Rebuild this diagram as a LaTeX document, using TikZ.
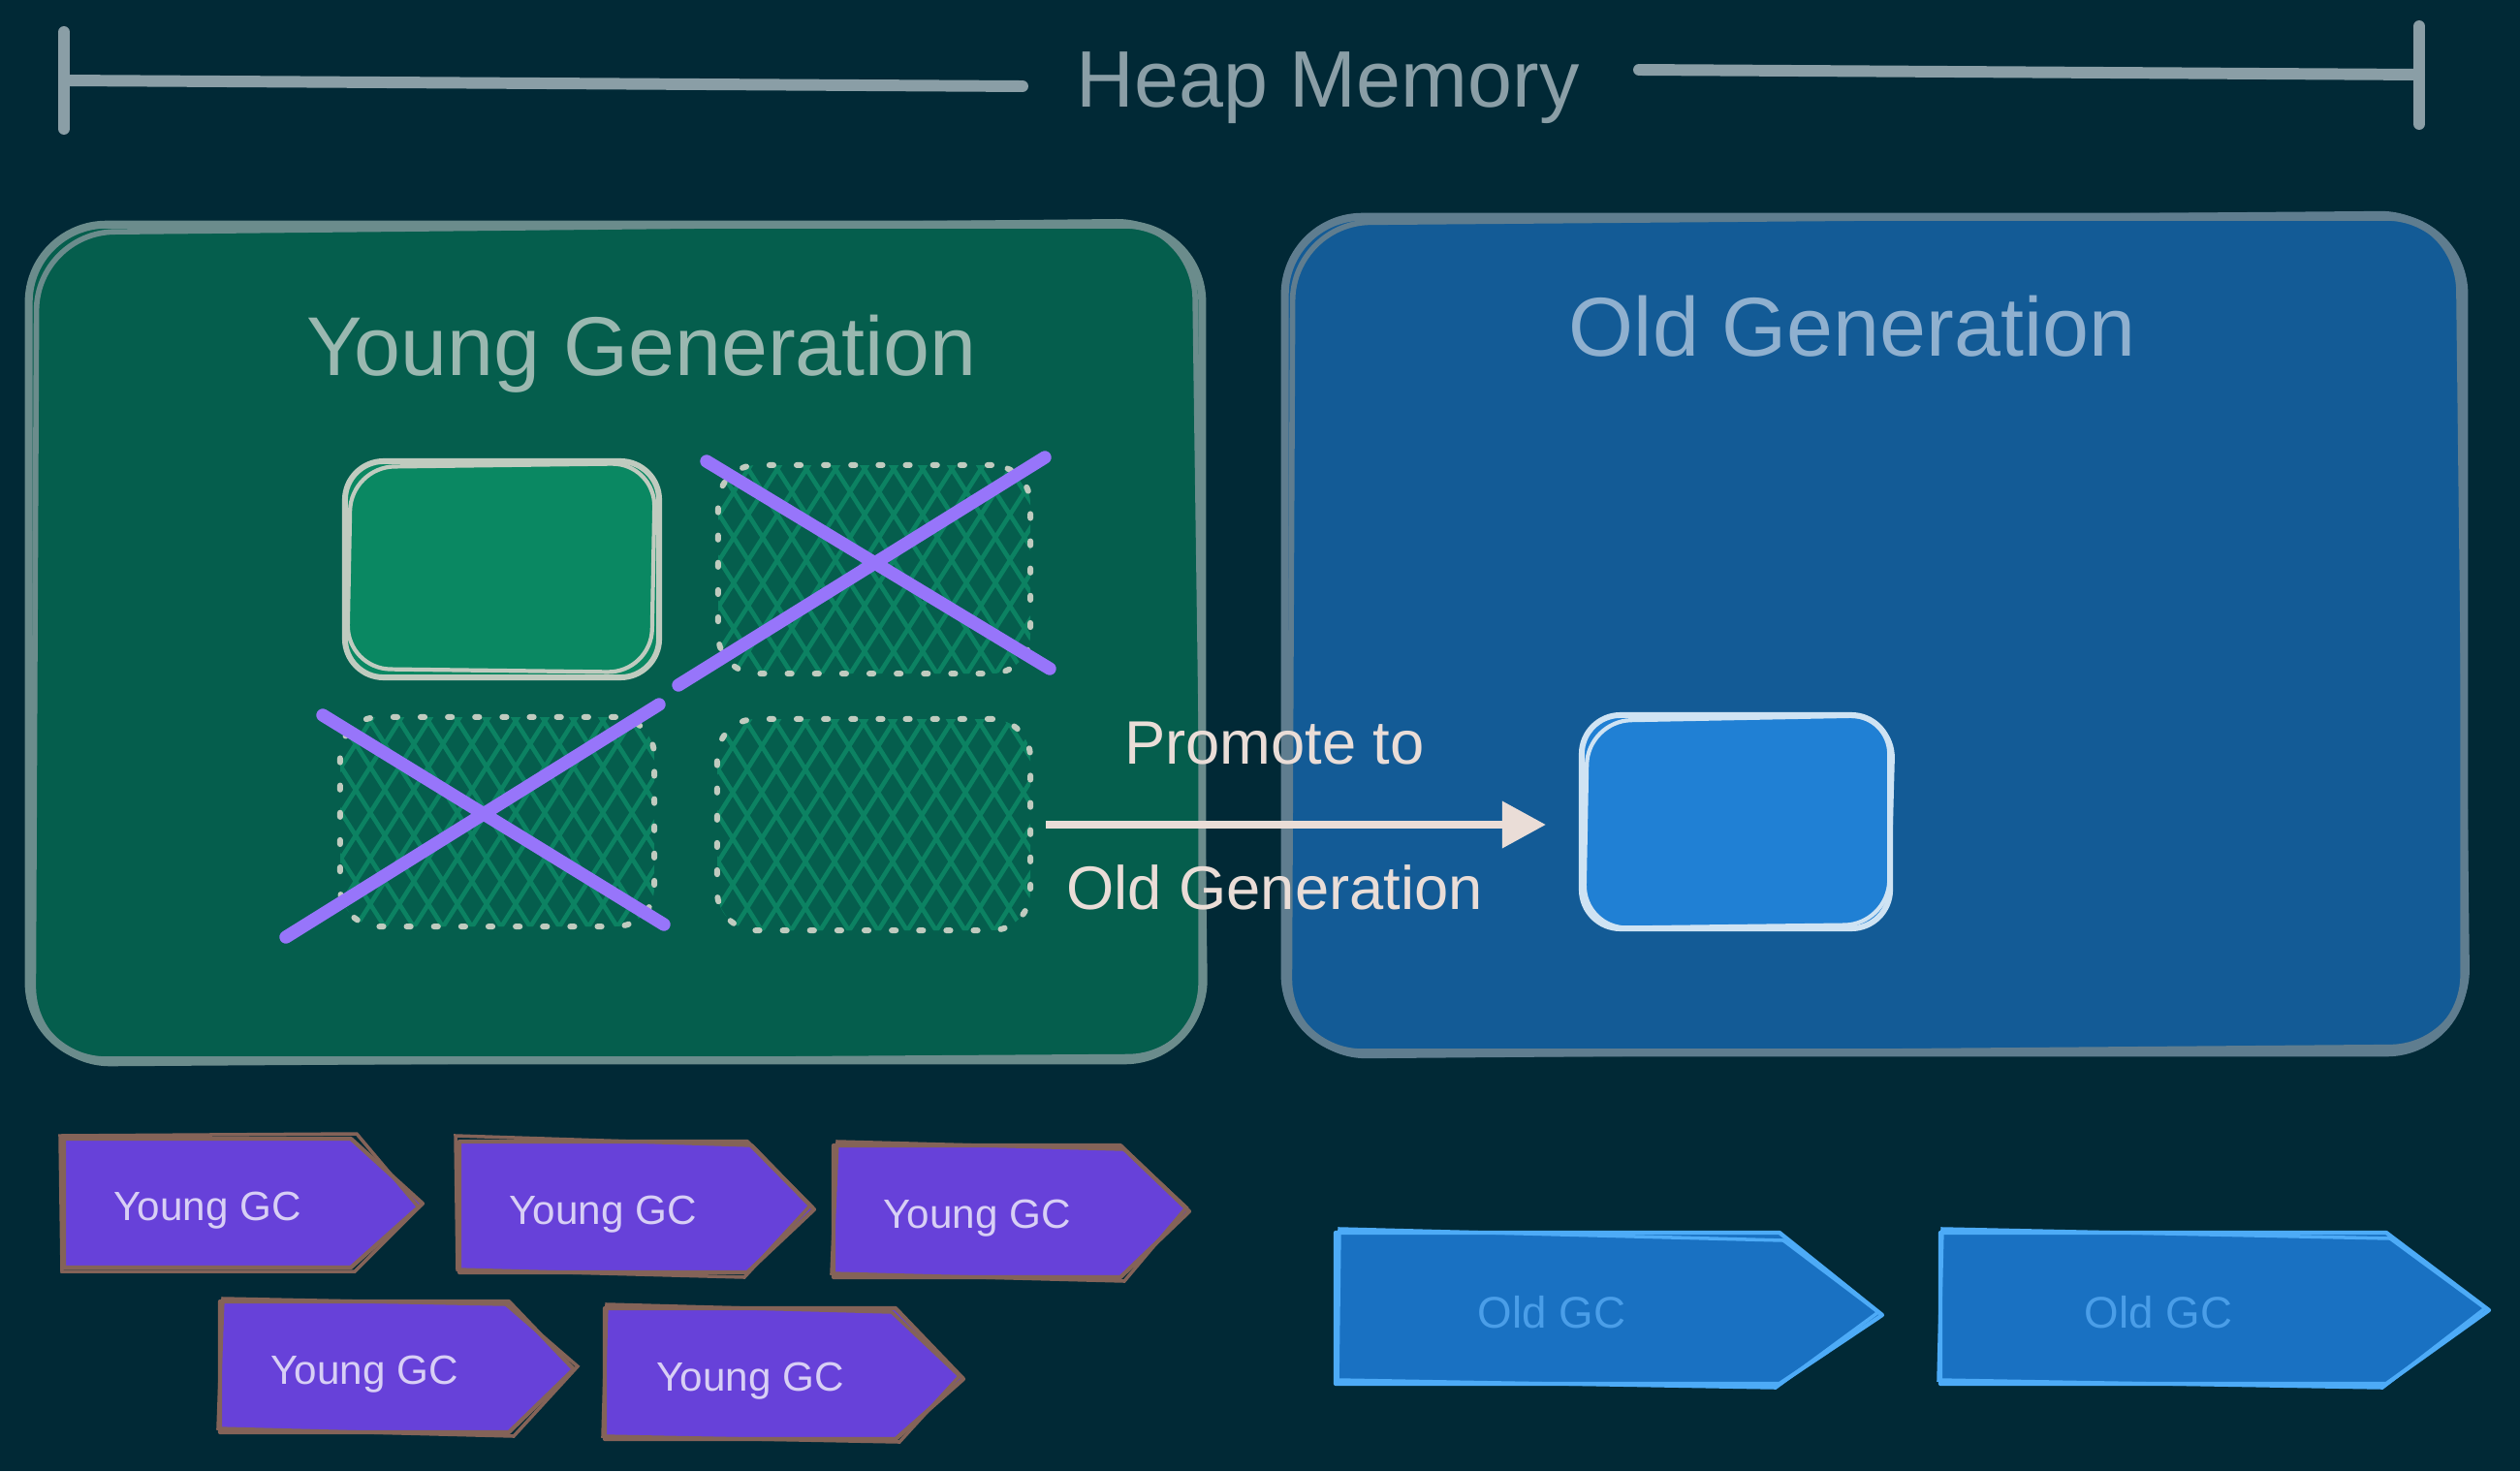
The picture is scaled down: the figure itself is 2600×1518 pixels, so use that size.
\documentclass[tikz,border=0pt]{standalone}
\usepackage{fontspec}
\setmainfont{Liberation Sans}
\usetikzlibrary{arrows.meta}
\definecolor{bg}{RGB}{1,41,54}
\definecolor{heapcol}{RGB}{138,158,166}
\definecolor{youngfill}{RGB}{5,94,77}
\definecolor{youngstroke}{RGB}{107,140,140}
\definecolor{youngtext}{RGB}{154,184,176}
\definecolor{oldfill}{RGB}{19,91,150}
\definecolor{oldstroke}{RGB}{95,125,143}
\definecolor{oldtext}{RGB}{143,176,207}
\definecolor{cellfill}{RGB}{10,136,98}
\definecolor{cellstroke}{RGB}{192,203,191}
\definecolor{hatchcol}{RGB}{12,130,98}
\definecolor{crosscol}{RGB}{151,117,250}
\definecolor{arrowcol}{RGB}{234,221,215}
\definecolor{oblockfill}{RGB}{32,128,212}
\definecolor{oblockstroke}{RGB}{207,227,243}
\definecolor{ygcfill}{RGB}{103,65,217}
\definecolor{ygcstroke}{RGB}{132,99,88}
\definecolor{ygctext}{RGB}{216,207,245}
\definecolor{ogcfill}{RGB}{25,113,194}
\definecolor{ogcstroke}{RGB}{77,171,247}
\definecolor{ogctext}{RGB}{74,158,232}
\tikzset{
  genbox/.style={draw, line width=2.3pt, rounded corners=0.8cm, inner sep=0pt},
  heapline/.style={draw=heapcol, line width=3.4pt, line cap=round},
  cellbox/.style={draw=cellstroke, fill=cellfill, line width=1.7pt, rounded corners=0.4cm, inner sep=0pt},
  sketchline/.style={line width=1.2pt, rounded corners=0.45cm},
  dashbox/.style={draw=cellstroke, line width=1.7pt, dash pattern=on 1.2pt off 6.8pt, line cap=round, rounded corners=0.4cm, inner sep=0pt},
  hatchline/.style={draw=hatchcol, line width=1.3pt},
  crossline/.style={draw=crosscol, line width=3.8pt, line cap=round},
  promote/.style={draw=arrowcol, line width=2pt, -{Triangle[length=12.8pt,width=13.4pt]}},
  oblock/.style={draw=oblockstroke, fill=oblockfill, line width=1.7pt, rounded corners=0.4cm, inner sep=0pt},
  ygc/.style={draw=ygcstroke, fill=ygcfill, line width=1.2pt, line join=round},
  ogc/.style={draw=ogcstroke, fill=ogcfill, line width=1.2pt, line join=round},
  ygctxt/.style={text=ygctext, font=\fontsize{12}{14}\selectfont, anchor=base},
  ogctxt/.style={text=ogctext, font=\fontsize{13}{15}\selectfont, anchor=base},
  titletxt/.style={font=\fontsize{24.5}{28}\selectfont, anchor=base},
  lbltxt/.style={text=arrowcol, font=\fontsize{18}{21}\selectfont, anchor=base},
}
\newcommand\hatchfill[4]{%
  \begin{scope}
    \clip[rounded corners=0.4cm] (#1,#2) rectangle (#3,#4);
    \foreach \i in {-200,-170,...,350}{
      \draw[hatchline] ({#1+\i},{#4+10}) -- ({#1+\i+150},{#2-10});
      \draw[hatchline] ({#1+\i+12},{#2-10}) -- ({#1+\i+162},{#4+10});
    }
  \end{scope}}
\begin{document}
\begin{tikzpicture}[x=0.01cm,y=-0.01cm]
\useasboundingbox[fill=bg] (0,0) rectangle (2600,1518);

% Heap Memory bracket
\node[titletxt, text=heapcol, font=\fontsize{23.5}{27}\selectfont] (heap) at (1370,110) {Heap Memory};
\coordinate (hlt) at (66,33);
\coordinate (hlb) at (66,133);
\coordinate (hl1) at (66,83);
\coordinate (hl2) at (1055,89);
\coordinate (hrt) at (2496,27);
\coordinate (hrb) at (2496,128);
\coordinate (hr1) at (1691,72);
\coordinate (hr2) at (2496,77);
\draw[heapline] (hlt) -- (hlb);
\draw[heapline] (hl1) -- (hl2);
\draw[heapline] (hrt) -- (hrb);
\draw[heapline] (hr1) -- (hr2);

% Generation boxes
\node[genbox, draw=youngstroke, fill=youngfill, minimum width=12.1cm, minimum height=8.62cm] (young) at (635,663) {};
\draw[youngstroke, sketchline, line width=1.6pt, rounded corners=0.8cm] (38,240) -- (1232,228) -- (1244,1090) -- (34,1098) -- cycle;
\node[genbox, draw=oldstroke, fill=oldfill, minimum width=12.16cm, minimum height=8.62cm] (old) at (1934,655) {};
\draw[oldstroke, sketchline, line width=1.6pt, rounded corners=0.8cm] (1334,230) -- (2536,220) -- (2546,1080) -- (1330,1090) -- cycle;
\node[titletxt, text=youngtext] (youngtitle) at (662,387) {Young Generation};
\node[titletxt, text=oldtext] (oldtitle) at (1911,367) {Old Generation};

% cells of the young generation
\node[cellbox, minimum width=3.24cm, minimum height=2.23cm] (c1) at (518,587.5) {};
\draw[cellstroke, sketchline] (362,482) -- (676,478) -- (672,694) -- (358,690) -- cycle;
\hatchfill{741}{480}{1063}{695}
\node[dashbox, minimum width=3.22cm, minimum height=2.15cm] (c2) at (902,587.5) {};
\hatchfill{351}{740}{675}{956}
\node[dashbox, minimum width=3.24cm, minimum height=2.16cm] (c3) at (513,848) {};
\hatchfill{740}{742}{1063}{960}
\node[dashbox, minimum width=3.23cm, minimum height=2.18cm] (c4) at (901.5,851) {};

% crosses
\coordinate (x1a) at (729,476);
\coordinate (x1b) at (1083,690);
\coordinate (x1c) at (1078,472);
\coordinate (x1d) at (700,707);
\draw[crossline] (x1a) -- (x1b);
\draw[crossline] (x1c) -- (x1d);
\coordinate (x2a) at (333,738);
\coordinate (x2b) at (685,954);
\coordinate (x2c) at (680,727);
\coordinate (x2d) at (295,967);
\draw[crossline] (x2a) -- (x2b);
\draw[crossline] (x2c) -- (x2d);

% promoted block in the old generation
\node[oblock, minimum width=3.18cm, minimum height=2.2cm] (ob) at (1791,848) {};
\draw[oblockstroke, sketchline] (1638,744) -- (1954,738) -- (1948,954) -- (1634,958) -- cycle;
\draw[promote, shorten <=3.7pt, shorten >=9.7pt] (c4.east) -- (c4.east -| ob.west);
\node[lbltxt] (lbl1) at (1315,788) {Promote to};
\node[lbltxt] (lbl2) at (1315,938) {Old Generation};

% Young GC arrows
\draw[ygc] (66,1175) -- (362,1175) -- (436,1242) -- (362,1308) -- (66,1308) -- cycle;
\draw[ygcstroke, line width=1pt] (62,1172) -- (368,1170) -- (432,1246) -- (366,1312) -- (64,1312) -- cycle;
\node[ygctxt] (ygc1) at (214,1259) {Young GC};
\draw[ygc] (474,1178) -- (771,1178) -- (840,1248) -- (771,1313) -- (474,1313) -- cycle;
\draw[ygcstroke, line width=1pt] (470,1172) -- (776,1182) -- (836,1244) -- (768,1318) -- (472,1310) -- cycle;
\node[ygctxt] (ygc2) at (622,1263) {Young GC};
\draw[ygc] (860,1182) -- (1156,1182) -- (1227,1250) -- (1156,1318) -- (860,1318) -- cycle;
\draw[ygcstroke, line width=1pt] (864,1178) -- (1160,1186) -- (1224,1246) -- (1160,1322) -- (858,1314) -- cycle;
\node[ygctxt] (ygc3) at (1008,1267) {Young GC};
\draw[ygc] (227,1343) -- (525,1343) -- (592,1413) -- (525,1478) -- (227,1478) -- cycle;
\draw[ygcstroke, line width=1pt] (230,1340) -- (522,1346) -- (596,1410) -- (530,1482) -- (225,1474) -- cycle;
\node[ygctxt] (ygc4) at (376,1428) {Young GC};
\draw[ygc] (624,1350) -- (924,1350) -- (994,1423) -- (924,1485) -- (624,1485) -- cycle;
\draw[ygcstroke, line width=1pt] (626,1346) -- (920,1354) -- (990,1420) -- (928,1488) -- (622,1482) -- cycle;
\node[ygctxt] (ygc5) at (774,1435) {Young GC};

% Old GC arrows
\draw[ogc] (1378,1272) -- (1836,1272) -- (1942,1357) -- (1836,1428) -- (1378,1428) -- cycle;
\draw[ogcstroke, line width=1pt] (1382,1268) -- (1840,1280) -- (1938,1354) -- (1832,1432) -- (1380,1424) -- cycle;
\node[ogctxt] (ogc1) at (1601,1370) {Old GC};
\draw[ogc] (2002,1272) -- (2462,1272) -- (2568,1352) -- (2462,1428) -- (2002,1428) -- cycle;
\draw[ogcstroke, line width=1pt] (2004,1268) -- (2466,1278) -- (2564,1350) -- (2458,1432) -- (2000,1424) -- cycle;
\node[ogctxt] (ogc2) at (2227,1370) {Old GC};
\end{tikzpicture}
\end{document}
